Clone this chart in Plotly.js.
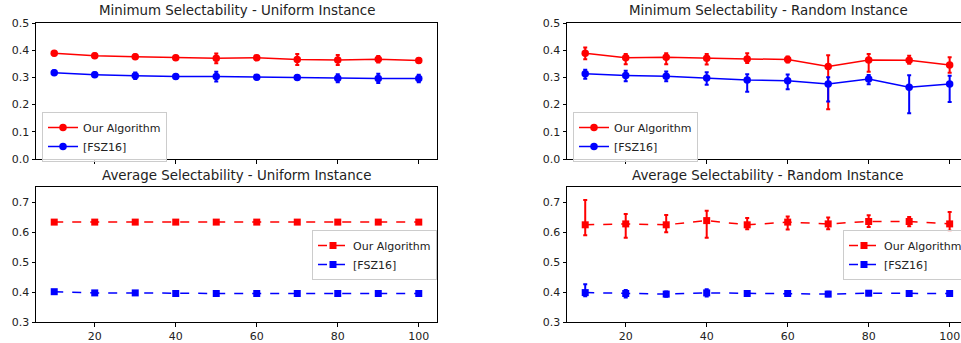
<!DOCTYPE html>
<html>
<head>
<meta charset="utf-8">
<script src="https://cdn.plot.ly/plotly-3.0.1.min.js"></script>
<style>html,body{margin:0;padding:0;background:#fff;}#chart{width:961px;height:343px;}</style>
</head>
<body>
<div id="chart"></div>
<script>
// ---- data ----
const xs = [10, 20, 30, 40, 50, 60, 70, 80, 90, 100];
const seriesNames = ["Our Algorithm", "[FSZ16]"];
const panelTitles = [
  "Minimum Selectability - Uniform Instance",
  "Minimum Selectability - Random Instance",
  "Average Selectability - Uniform Instance",
  "Average Selectability - Random Instance"
];

// Minimum selectability - uniform
const minUniOurs     = [0.389, 0.380, 0.376, 0.372, 0.370, 0.372, 0.366, 0.364, 0.367, 0.362];
const minUniOursErr  = [0.008, 0.008, 0.008, 0.008, 0.018, 0.008, 0.020, 0.018, 0.012, 0.008];
const minUniFsz      = [0.317, 0.310, 0.306, 0.303, 0.303, 0.301, 0.300, 0.297, 0.296, 0.296];
const minUniFszErr   = [0.008, 0.008, 0.012, 0.008, 0.018, 0.008, 0.008, 0.015, 0.017, 0.014];

// Minimum selectability - random (value, upper, lower)
const minRndOurs     = [0.389, 0.372, 0.374, 0.370, 0.368, 0.366, 0.340, 0.364, 0.363, 0.346];
const minRndOursHi   = [0.410, 0.386, 0.389, 0.386, 0.389, 0.377, 0.381, 0.386, 0.380, 0.374];
const minRndOursLo   = [0.367, 0.348, 0.348, 0.347, 0.353, 0.355, 0.183, 0.321, 0.350, 0.317];
const minRndFsz      = [0.313, 0.307, 0.304, 0.298, 0.290, 0.288, 0.276, 0.294, 0.264, 0.276];
const minRndFszHi    = [0.328, 0.324, 0.322, 0.319, 0.312, 0.311, 0.301, 0.309, 0.308, 0.306];
const minRndFszLo    = [0.295, 0.286, 0.286, 0.273, 0.247, 0.256, 0.211, 0.275, 0.168, 0.210];

// Average selectability - uniform
const avgUniOurs     = [0.633, 0.633, 0.633, 0.633, 0.633, 0.633, 0.633, 0.633, 0.633, 0.633];
const avgUniOursErr  = [0.003, 0.003, 0.003, 0.003, 0.003, 0.003, 0.003, 0.003, 0.003, 0.003];
const avgUniFsz      = [0.401, 0.397, 0.397, 0.395, 0.395, 0.395, 0.395, 0.395, 0.395, 0.395];
const avgUniFszErr   = [0.003, 0.003, 0.003, 0.003, 0.003, 0.003, 0.003, 0.003, 0.003, 0.003];

// Average selectability - random (value, upper, lower)
const avgRndOurs     = [0.624, 0.627, 0.624, 0.638, 0.624, 0.633, 0.627, 0.635, 0.635, 0.627];
const avgRndOursHi   = [0.707, 0.660, 0.657, 0.671, 0.647, 0.652, 0.648, 0.656, 0.650, 0.667];
const avgRndOursLo   = [0.589, 0.581, 0.599, 0.581, 0.609, 0.608, 0.609, 0.617, 0.619, 0.604];
const avgRndFsz      = [0.398, 0.395, 0.393, 0.397, 0.395, 0.395, 0.393, 0.396, 0.395, 0.395];
const avgRndFszHi    = [0.426, 0.407, 0.402, 0.409, 0.403, 0.402, 0.401, 0.402, 0.402, 0.402];
const avgRndFszLo    = [0.386, 0.382, 0.384, 0.385, 0.387, 0.388, 0.386, 0.389, 0.388, 0.388];

// ---- helpers ----
const RED = "#ff0000", BLUE = "#0000ff";
function sub(a, b) { return a.map((v, i) => +(v - b[i]).toFixed(4)); }

function trace(y, plus, minus, color, name, xa, ya, legend, dashed) {
  return {
    x: xs, y: y, name: name, type: "scatter", mode: "lines+markers",
    xaxis: xa, yaxis: ya, legend: legend, showlegend: true,
    line: {color: color, width: 1.5, dash: dashed ? "dash" : "solid"},
    marker: {color: color, size: dashed ? 7 : 7.5, symbol: dashed ? "square" : "circle"},
    error_y: {type: "data", symmetric: false, array: plus, arrayminus: minus,
              color: color, thickness: 2, width: 2}
  };
}

const data = [
  trace(minUniOurs, minUniOursErr, minUniOursErr, RED, seriesNames[0], "x", "y", "legend", false),
  trace(minUniFsz, minUniFszErr, minUniFszErr, BLUE, seriesNames[1], "x", "y", "legend", false),
  trace(minRndOurs, sub(minRndOursHi, minRndOurs), sub(minRndOurs, minRndOursLo), RED, seriesNames[0], "x2", "y2", "legend2", false),
  trace(minRndFsz, sub(minRndFszHi, minRndFsz), sub(minRndFsz, minRndFszLo), BLUE, seriesNames[1], "x2", "y2", "legend2", false),
  trace(avgUniOurs, avgUniOursErr, avgUniOursErr, RED, seriesNames[0], "x3", "y3", "legend3", true),
  trace(avgUniFsz, avgUniFszErr, avgUniFszErr, BLUE, seriesNames[1], "x3", "y3", "legend3", true),
  trace(avgRndOurs, sub(avgRndOursHi, avgRndOurs), sub(avgRndOurs, avgRndOursLo), RED, seriesNames[0], "x4", "y4", "legend4", true),
  trace(avgRndFsz, sub(avgRndFszHi, avgRndFsz), sub(avgRndFsz, avgRndFszLo), BLUE, seriesNames[1], "x4", "y4", "legend4", true)
];

const W = 961, H = 343;
const fontFam = "DejaVu Sans, sans-serif";
function xaxis(domain, range, anchor, labels) {
  return {domain: domain, range: range, anchor: anchor, showgrid: false, zeroline: false,
          showline: true, linecolor: "#000", linewidth: 1, mirror: true,
          ticks: "outside", ticklen: 3.5, tickcolor: "#000", tickwidth: 1,
          tickvals: [20, 40, 60, 80, 100], showticklabels: labels, automargin: false,
          tickfont: {family: fontFam, size: 11, color: "#222"}};
}
function yaxis(domain, range, anchor, tickvals, mirror) {
  return {domain: domain, range: range, anchor: anchor, showgrid: false, zeroline: false,
          showline: true, linecolor: "#000", linewidth: 1, mirror: mirror,
          ticks: "outside", ticklen: 3.5, tickcolor: "#000", tickwidth: 1,
          tickvals: tickvals, tickformat: ".1f", automargin: false,
          tickfont: {family: fontFam, size: 11, color: "#222"}};
}
const xL = [36 / W, 437 / W], xR = [567 / W, 1];
const yT = [1 - 159 / H, 1 - 23 / H], yB = [1 - 322 / H, 1 - 187 / H];
const topTicks = [0, 0.1, 0.2, 0.3, 0.4, 0.5];
const botTicks = [0.3, 0.4, 0.5, 0.6, 0.7];

function legend(xpx, ypx) {
  return {x: xpx / W, y: 1 - ypx / H, xanchor: "left", yanchor: "top",
          bgcolor: "rgba(255,255,255,0.8)", bordercolor: "#cccccc", borderwidth: 1,
          font: {family: fontFam, size: 11, color: "#222"}, itemwidth: 30, tracegroupgap: 0};
}
function title(text, xc, yc) {
  return {text: text, x: xc, y: yc, xref: "paper", yref: "paper", xanchor: "center", yanchor: "middle",
          showarrow: false, font: {family: fontFam, size: 13.4, color: "#222"}};
}

const layout = {
  width: W, height: H, margin: {l: 0, r: 0, t: 0, b: 0, autoexpand: false},
  paper_bgcolor: "#fff", plot_bgcolor: "#fff",
  font: {family: fontFam, size: 11, color: "#222"},
  xaxis: xaxis(xL, [5.5, 104.5], "y", false),
  yaxis: yaxis(yT, [0, 0.5], "x", topTicks, true),
  xaxis2: xaxis(xR, [5.5, 102.8], "y2", false),
  yaxis2: yaxis(yT, [0, 0.5], "x2", topTicks, true),
  xaxis3: xaxis(xL, [5.5, 104.5], "y3", true),
  yaxis3: yaxis(yB, [0.3, 0.75], "x3", botTicks, true),
  xaxis4: xaxis(xR, [5.5, 102.8], "y4", true),
  yaxis4: yaxis(yB, [0.3, 0.75], "x4", botTicks, true),
  legend: legend(42, 112),
  legend2: legend(573, 112),
  legend3: legend(312, 230),
  legend4: legend(843, 230),
  annotations: [
    title(panelTitles[0], 236.5 / W, 1 - 11 / H),
    title(panelTitles[1], 768 / W, 1 - 11 / H),
    title(panelTitles[2], 236.5 / W, 1 - 175 / H),
    title(panelTitles[3], 768 / W, 1 - 175 / H)
  ],
  showlegend: true
};

Plotly.newPlot("chart", data, layout, {staticPlot: true, displayModeBar: false});
</script>
</body>
</html>
